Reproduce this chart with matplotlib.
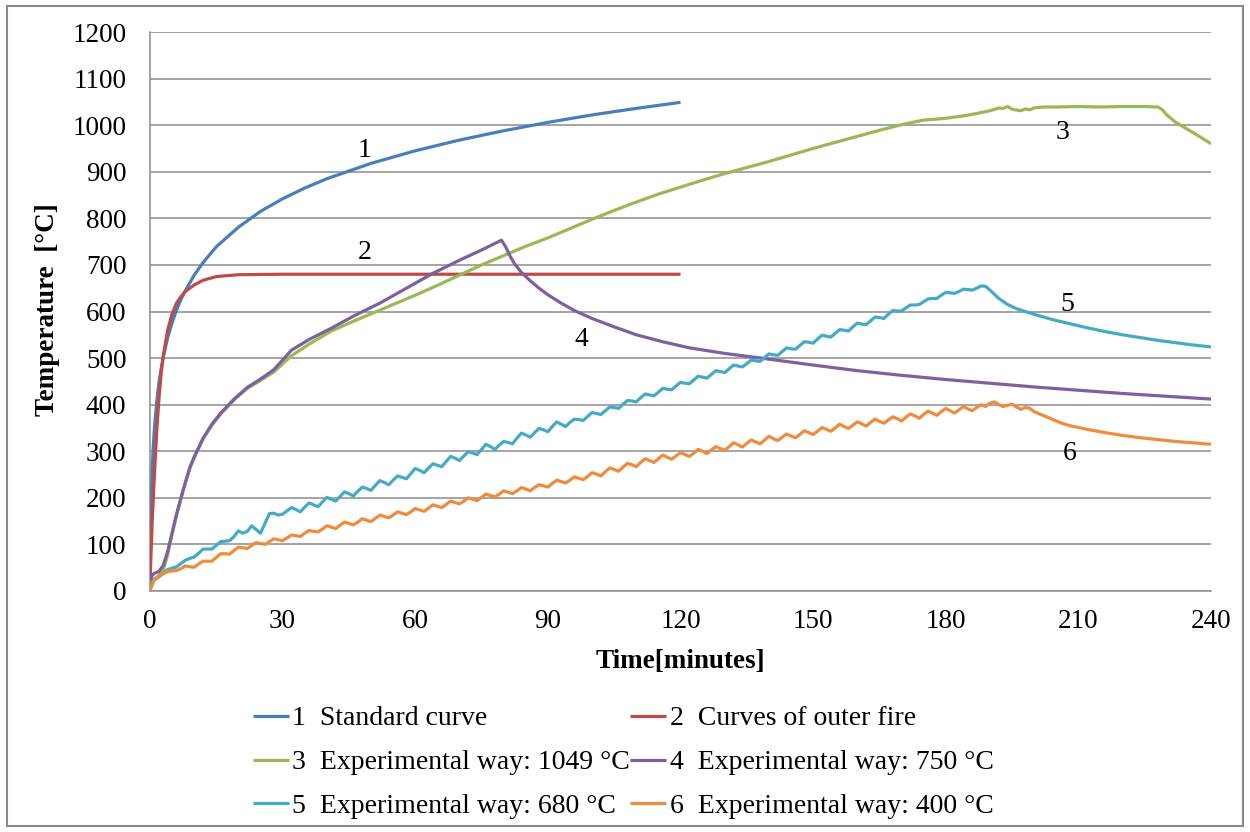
import matplotlib
matplotlib.use("Agg")
import matplotlib.pyplot as plt
from matplotlib.patches import Rectangle

plt.rcParams['font.family'] = ['Liberation Serif', 'DejaVu Serif']

# ---- data -------------------------------------------------------------
# 1: standard fire curve
std_time = [0, 0.25, 0.5, 0.75, 1, 1.5, 2, 2.5, 3, 4, 5, 6, 7, 8, 10, 12, 15,
            20, 25, 30, 35, 40, 50, 60, 70, 80, 90, 100, 110, 120]
std_temp = [20, 185, 261, 312, 349, 404, 445, 476, 502, 544, 576, 603, 626, 645,
            678, 705, 739, 781, 815, 842, 865, 885, 918, 945, 968, 988, 1006,
            1022, 1036, 1049]

# 2: external fire curve
ext_time = [0, 0.5, 1, 1.5, 2, 2.5, 3, 4, 5, 6, 7, 8, 10, 12, 15, 20, 30, 60,
            90, 120]
ext_temp = [20, 150, 250, 340, 410, 465, 505, 560, 595, 618, 632, 643, 657, 667,
            675, 679, 680, 680, 680, 680]

# 3: experiment, max 1049 °C
exp1049_time = [0, 1, 2, 3, 4, 5, 6, 7.5, 9, 10, 12, 14, 16, 19, 22, 25, 28, 32,
                36, 41, 45, 50, 55, 60, 65, 70, 75, 80, 85, 90, 95, 100, 105,
                110, 115, 120, 125, 130, 135, 140, 145, 150, 155, 160, 165, 170,
                175, 178, 181, 184, 187, 190, 192, 193, 194, 195, 197, 198, 199,
                200, 202, 205, 210, 215, 220, 225, 228, 229, 230, 232, 234, 237,
                240]
exp1049_temp = [15, 25, 33, 45, 78, 122, 162, 215, 263, 286, 326, 356, 380, 410,
                435, 452, 470, 505, 530, 558, 575, 595, 615, 635, 656, 678, 700,
                720, 740, 758, 778, 798, 817, 835, 852, 867, 882, 896, 909, 922,
                936, 950, 963, 976, 989, 1001, 1011, 1013, 1016, 1020, 1025,
                1031, 1037, 1036, 1040, 1034, 1031, 1035, 1033, 1037, 1039, 1039,
                1040, 1039, 1040, 1040, 1039, 1033, 1022, 1006, 995, 978, 960]

# 4: experiment, max 750 °C
exp750_time = [0, 0.5, 1, 2, 3, 4, 5, 6, 7.5, 9, 10, 12, 14, 16, 19, 22, 25, 28,
               32, 36, 41, 46, 52, 58, 64, 70, 75, 79.5, 80.5, 81.5, 82.5, 84,
               86, 88, 90, 93, 96, 100, 105, 110, 116, 122, 130, 139, 150, 160,
               170, 180, 190, 200, 210, 220, 230, 240]
exp750_temp = [15, 34, 38, 42, 55, 85, 125, 165, 217, 265, 288, 328, 358, 382,
               412, 437, 455, 475, 517, 540, 564, 590, 618, 650, 682, 710, 732,
               753, 738, 718, 702, 684, 666, 650, 636, 618, 602, 585, 567, 550,
               535, 522, 510, 499, 485, 473, 463, 454, 446, 438, 431, 424, 418,
               412]

# 5: experiment, max 680 °C (one reading per minute while heating)
exp680_time = list(range(0, 189)) + [189, 190, 192, 194, 196, 200, 204, 208,
                                     212, 216, 220, 224, 228, 232, 236, 240]
exp680_temp = [
    17, 24, 30, 38, 46, 49, 52, 59, 66, 70, 73, 81, 90, 90, 90, 98, 106, 107, 108, 117,
    129, 124, 128, 140, 132, 124, 145, 166, 167, 163, 165, 172, 179, 175, 170, 180, 189, 185, 181, 191,
    201, 197, 193, 203, 213, 209, 204, 214, 223, 220, 216, 227, 237, 233, 228, 238, 247, 244, 241, 252,
    263, 259, 254, 264, 273, 270, 267, 278, 289, 285, 280, 290, 299, 296, 293, 304, 315, 310, 304, 313,
    321, 319, 316, 328, 339, 335, 330, 340, 349, 346, 342, 353, 363, 358, 353, 362, 369, 368, 366, 375,
    383, 381, 379, 387, 395, 394, 392, 401, 409, 408, 406, 415, 423, 421, 419, 427, 435, 433, 432, 440,
    448, 446, 445, 453, 461, 459, 457, 465, 473, 471, 469, 477, 485, 483, 481, 488, 496, 494, 493, 501,
    509, 507, 506, 514, 522, 520, 519, 527, 535, 534, 532, 541, 549, 547, 545, 553, 561, 560, 558, 567,
    575, 573, 572, 580, 588, 587, 585, 594, 602, 601, 601, 608, 614, 614, 615, 621, 627, 628, 628, 635,
    641, 640, 639, 643, 648, 647, 646, 650, 655,
    654, 646, 628, 615, 606, 594, 583, 574, 565, 557, 550, 544, 538, 533, 528, 524]

# 6: experiment, max 400 °C (one reading per minute while heating)
exp400_time = list(range(0, 200)) + [200, 202, 204, 206, 208, 212, 216, 220,
                                     224, 228, 232, 236, 240]
exp400_temp = [
    2, 25, 32, 37, 42, 43, 44, 48, 54, 52, 51, 58, 64, 64, 64, 72, 80, 80, 79, 87,
    94, 93, 91, 98, 104, 102, 100, 106, 112, 110, 108, 114, 120, 119, 117, 124, 130, 128, 127, 133,
    140, 137, 134, 141, 148, 145, 142, 148, 155, 152, 149, 156, 163, 160, 157, 163, 170, 167, 164, 170,
    177, 174, 171, 178, 185, 182, 179, 186, 193, 190, 187, 193, 200, 197, 194, 201, 208, 205, 202, 208,
    215, 212, 209, 215, 222, 219, 215, 222, 228, 226, 223, 231, 238, 235, 232, 238, 245, 242, 239, 246,
    254, 251, 247, 256, 264, 261, 257, 266, 274, 271, 267, 276, 284, 280, 276, 284, 292, 287, 283, 290,
    297, 293, 289, 296, 304, 300, 295, 303, 310, 306, 302, 310, 318, 314, 309, 317, 324, 320, 316, 324,
    332, 327, 323, 330, 337, 333, 329, 336, 344, 340, 336, 343, 351, 347, 343, 350, 358, 353, 349, 356,
    363, 359, 354, 362, 369, 364, 360, 367, 374, 370, 365, 373, 380, 376, 371, 379, 386, 382, 377, 385,
    392, 387, 382, 389, 396, 391, 387, 394, 400, 396, 403, 406, 400, 396, 399, 401, 395, 390, 394, 392,
    385, 377, 369, 361, 355, 347, 340, 334, 329, 325, 321, 318, 315]

series_labels = ["1  Standard curve",
                 "2  Curves of outer fire",
                 "3  Experimental way: 1049 °C",
                 "4  Experimental way: 750 °C",
                 "5  Experimental way: 680 °C",
                 "6  Experimental way: 400 °C"]
curve_tags = ["1", "2", "3", "4", "5", "6"]
tag_time = [48.5, 48.5, 206.5, 97.5, 207.5, 208]
tag_temp = [946, 727, 985, 539, 614, 296]

x_ticks = [0, 30, 60, 90, 120, 150, 180, 210, 240]
y_ticks = list(range(0, 1201, 100))

colors = ["#4A7EBB", "#BE4B48", "#98B954", "#7D60A0", "#46AAC5", "#EE8C3E"]

# ---- figure -----------------------------------------------------------
W, H = 1250, 832
fig = plt.figure(figsize=(W / 100, H / 100), dpi=100)
ax = fig.add_axes([150 / W, 1 - 591 / H, (1211 - 150) / W, (591 - 32) / H])

xs = [std_time, ext_time, exp1049_time, exp750_time, exp680_time, exp400_time]
ys = [std_temp, ext_temp, exp1049_temp, exp750_temp, exp680_temp, exp400_temp]
handles = []
for i, (x, y) in enumerate(zip(xs, ys)):
    h, = ax.plot(x, y, color=colors[i], lw=2.3, solid_joinstyle='round',
                 solid_capstyle='butt', zorder=3 + i)
    handles.append(h)

for tag, tx, ty in zip(curve_tags, tag_time, tag_temp):
    ax.text(tx, ty, tag, ha='center', va='center', fontsize=20, zorder=10)

ax.set_xlim(0, 240)
ax.set_ylim(0, 1200)
ax.set_xticks(x_ticks)
ax.set_yticks(y_ticks)
ax.tick_params(length=0, labelsize=19.5)
ax.tick_params(axis='y', pad=17)
ax.tick_params(axis='x', pad=13)
ax.grid(axis='y', color='#8c8c8c', lw=1.1)
ax.set_axisbelow(True)
for side in ['top', 'right']:
    ax.spines[side].set_visible(False)
for side in ['left', 'bottom']:
    ax.spines[side].set_color('#8c8c8c')
    ax.spines[side].set_linewidth(1.1)

fig.text(48 / W, 1 - 310 / H, "Temperature  [°C]", rotation=90, ha='center',
         va='center', fontsize=19.5, fontweight='bold')
fig.text(680 / W, 1 - 662 / H, "Time[minutes]", ha='center', va='center',
         fontsize=19.5, fontweight='bold')

order = [0, 2, 4, 1, 3, 5]
fig.legend([handles[i] for i in order], [series_labels[i] for i in order],
           ncol=2, loc='upper left', bbox_to_anchor=(253 / W, 1 - 706 / H),
           frameon=False, fontsize=20, handlelength=1.3, handletextpad=0.12,
           columnspacing=0.0, labelspacing=0.66, borderpad=0,
           borderaxespad=0)

fig.add_artist(Rectangle((7 / W, 6 / H), (1243 - 7) / W, (826 - 6) / H,
                         transform=fig.transFigure, fill=False,
                         ec='#8a8a8a', lw=1.5))

fig.savefig("out.png", dpi=100, facecolor='white')
